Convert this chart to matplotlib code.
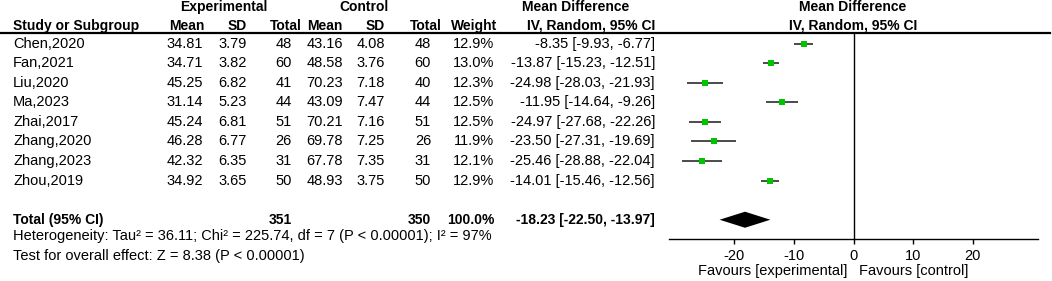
import matplotlib
matplotlib.use("Agg")
import matplotlib.pyplot as plt
from matplotlib import transforms
from matplotlib.lines import Line2D

plt.rcParams['font.family'] = ['Liberation Sans', 'DejaVu Sans']

# ---------------- data ----------------
studies = ["Chen,2020", "Fan,2021", "Liu,2020", "Ma,2023", "Zhai,2017",
           "Zhang,2020", "Zhang,2023", "Zhou,2019"]
exp_mean = ["34.81", "34.71", "45.25", "31.14", "45.24", "46.28", "42.32", "34.92"]
exp_sd = ["3.79", "3.82", "6.82", "5.23", "6.81", "6.77", "6.35", "3.65"]
exp_n = [48, 60, 41, 44, 51, 26, 31, 50]
ctl_mean = ["43.16", "48.58", "70.23", "43.09", "70.21", "69.78", "67.78", "48.93"]
ctl_sd = ["4.08", "3.76", "7.18", "7.47", "7.16", "7.25", "7.35", "3.75"]
ctl_n = [48, 60, 40, 44, 51, 26, 31, 50]
weights = [12.9, 13.0, 12.3, 12.5, 12.5, 11.9, 12.1, 12.9]
md = [-8.35, -13.87, -24.98, -11.95, -24.97, -23.50, -25.46, -14.01]
ci_lo = [-9.93, -15.23, -28.03, -14.64, -27.68, -27.31, -28.88, -15.46]
ci_hi = [-6.77, -12.51, -21.93, -9.26, -22.26, -19.69, -22.04, -12.56]
total_exp, total_ctl = 351, 350
total_weight = 100.0
total_md, total_lo, total_hi = -18.23, -22.50, -13.97
xticks = [-20, -10, 0, 10, 20]
heterogeneity = "Heterogeneity: Tau\u00b2 = 36.11; Chi\u00b2 = 225.74, df = 7 (P < 0.00001); I\u00b2 = 97%"
overall = "Test for overall effect: Z = 8.38 (P < 0.00001)"

# ---------------- layout ----------------
W, H = 1052, 281
fig = plt.figure(figsize=(W / 100, H / 100), dpi=100)
ax_left, ax_right = 669, 1038
ax_top, ax_bot = 33.3, 239.3
ax = fig.add_axes([ax_left / W, (H - ax_bot) / H, (ax_right - ax_left) / W, (ax_bot - ax_top) / H])
ax.set_xlim(-31, 31)
ax.set_ylim(10.0, -0.53)
for s in ['top', 'right', 'left']:
    ax.spines[s].set_visible(False)
ax.spines['bottom'].set_linewidth(1.0)
ax.set_yticks([])
ax.set_xticks(xticks)
ax.set_xticklabels([str(t) for t in xticks])
ax.tick_params(axis='x', direction='out', length=3.5, width=1.0, pad=3.5, labelsize=10.5)
ax.patch.set_alpha(0)

FS = 10.5
FSB = 10
tr = transforms.blended_transform_factory(fig.transFigure, ax.transData)

def T(xpx, r, s, ha='right', bold=False):
    fig.text(xpx / W, r, s, transform=tr, ha=ha, va='center',
             fontsize=FSB if bold else FS,
             fontweight='bold' if bold else 'normal', color='black')

# header line
fig.add_artist(Line2D([0, 1050 / W], [(H - 33.3) / H] * 2, transform=fig.transFigure,
                      color='black', lw=1.6))

# headers
r1, r2 = -1.87, -0.92
T(224, r1, "Experimental", ha='center', bold=True)
T(364, r1, "Control", ha='center', bold=True)
T(576, r1, "Mean Difference", ha='center', bold=True)
T(853, r1, "Mean Difference", ha='center', bold=True)
T(13, r2, "Study or Subgroup", ha='left', bold=True)
for xp, lab in [(204, "Mean"), (247, "SD"), (302, "Total"), (343, "Mean"), (385, "SD"),
                (442, "Total"), (497, "Weight"), (655, "IV, Random, 95% CI")]:
    T(xp, r2, lab, bold=True)
T(853, r2, "IV, Random, 95% CI", ha='center', bold=True)

# rows
for i in range(len(studies)):
    T(13, i, studies[i], ha='left')
    T(203, i, exp_mean[i])
    T(247, i, exp_sd[i])
    T(292, i, str(exp_n[i]))
    T(343, i, ctl_mean[i])
    T(385, i, ctl_sd[i])
    T(431, i, str(ctl_n[i]))
    T(494, i, f"{weights[i]:.1f}%")
    T(655, i, f"{md[i]:.2f} [{ci_lo[i]:.2f}, {ci_hi[i]:.2f}]")
    ax.plot([ci_lo[i], ci_hi[i]], [i, i], color='#1a1a1a', lw=1.1, solid_capstyle='butt', zorder=2)
    ax.plot([md[i]], [i], marker='s', ms=4.5 * (weights[i] / 12.5) ** 0.5,
            color='#00c400', mec='#00c400', mew=0, linestyle='none', zorder=3)

# total row
rt = 9.0
T(13, rt, "Total (95% CI)", ha='left', bold=True)
T(292, rt, str(total_exp), bold=True)
T(431, rt, str(total_ctl), bold=True)
T(494, rt, f"{total_weight:.1f}%", bold=True)
T(655, rt, f"{total_md:.2f} [{total_lo:.2f}, {total_hi:.2f}]", bold=True)
h = 0.41
ax.fill([total_lo, total_md, total_hi, total_md], [rt, rt - h, rt, rt + h], color='black', lw=0, zorder=3)

# footer
T(13, 9.85, heterogeneity, ha='left')
T(13, 10.87, overall, ha='left')

# zero line
ax.axvline(0, color='black', lw=1.0, zorder=1)

# favours labels
ax.text(-1.1, 11.63, "Favours [experimental]", ha='right', va='center', fontsize=FS, clip_on=False)
ax.text(1.0, 11.63, "Favours [control]", ha='left', va='center', fontsize=FS, clip_on=False)

fig.savefig("out.png", dpi=100, facecolor='white')
